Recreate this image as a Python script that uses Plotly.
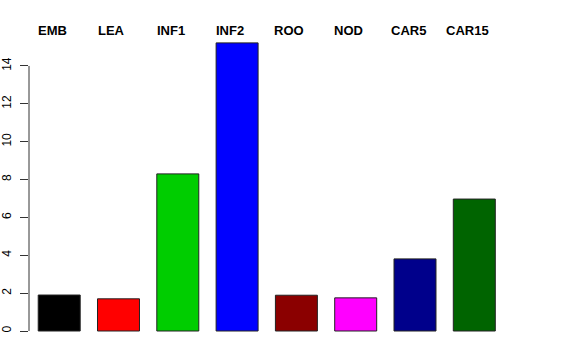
import plotly.graph_objects as go

categories = ["EMB", "LEA", "INF1", "INF2", "ROO", "NOD", "CAR5", "CAR15"]
values = [1.90, 1.70, 8.30, 15.22, 1.89, 1.75, 3.81, 6.97]
colors = ["#000000", "#FF0000", "#00CD00", "#0000FF", "#8B0000", "#FF00FF", "#00008B", "#006400"]
y_ticks = [0, 2, 4, 6, 8, 10, 12, 14]

x_pos = list(range(len(categories)))

fig = go.Figure()
fig.add_trace(go.Bar(
    x=x_pos, y=values, width=0.708,
    marker=dict(color=colors, line=dict(color="#222222", width=1)),
    hoverinfo="skip", showlegend=False,
))

W, H = 576, 360
ml, mr, mt, mb = 29, 0, 40, 20
# pixel mapping: x_pix = 59.2 + 59.3*x ; y_pix = 331 - 18.93*y
x0 = (ml - 59.2) / 59.3
x1 = (W - mr - 59.2) / 59.3
y1 = (331 - mt) / 18.93
y0 = (331 - (H - mb)) / 18.93

for i, c in enumerate(categories):
    fig.add_annotation(
        x=i, xref="x", y=1, yref="paper", yshift=40 - 30.5,
        text="<b>" + c + "</b>", showarrow=False, xshift=-7,
        font=dict(family="Liberation Sans, Arial, sans-serif", size=13, color="#000000"),
        xanchor="center", yanchor="middle",
    )

fig.add_shape(type="line", xref="paper", x0=0, x1=0, yref="y", y0=y_ticks[0], y1=y_ticks[-1],
              line=dict(color="#333333", width=1))

fig.update_layout(
    width=W, height=H,
    margin=dict(l=ml, r=mr, t=mt, b=mb, pad=0, autoexpand=False),
    paper_bgcolor="white", plot_bgcolor="white",
    font=dict(family="Liberation Sans, Arial, sans-serif", size=11, color="#000000"),
    xaxis=dict(visible=False, range=[x0, x1], automargin=False),
    yaxis=dict(range=[y0, y1], tickvals=y_ticks, ticktext=[str(v) for v in y_ticks],
               ticks="outside", ticklen=8, tickcolor="#333333", tickwidth=1,
               showgrid=False, zeroline=False, showline=False, tickangle=-90,
               automargin=False, tickfont=dict(size=12), ticklabelstandoff=4),
)

fig.write_html("out.html", config={"displayModeBar": False},
               post_script="document.body.style.margin='0';document.body.style.overflow='hidden';")
